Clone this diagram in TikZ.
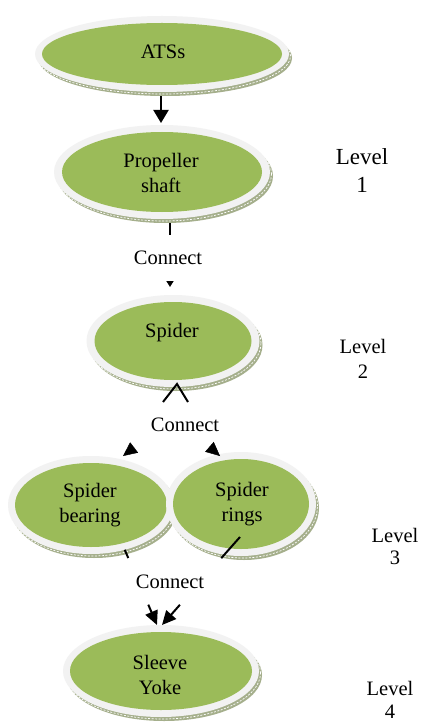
\documentclass[tikz,border=0pt]{standalone}
\usepackage{fontspec}
\setmainfont{Liberation Serif}
\usetikzlibrary{shapes.geometric,arrows.meta,calc}
\definecolor{ovgreen}{HTML}{9BBB59}
\definecolor{ovring}{HTML}{F2F2F2}
\definecolor{ovshadow}{HTML}{A5AF8C}
\tikzset{
  ovbase/.style={ellipse, inner sep=0pt, outer sep=0pt},
  ovshadowst/.style={ovbase, fill=ovshadow},
  ovdashst/.style={ovbase, draw=white, line width=0.7pt, dash pattern=on 2pt off 1.5pt},
  ovringst/.style={ovbase, fill=ovring},
  ovcorest/.style={ovbase, fill=ovgreen},
  txt/.style={font=\fontsize{20.5}{25}\selectfont, align=center, inner sep=0pt},
  conn/.style={line width=2pt, draw=black},
}
% name, x, y, core w, core h, ring w, ring h
\newcommand{\myoval}[7]{%
  \node[ovshadowst, minimum width=#6pt, minimum height=#7pt] (#1-s) at ($(#2,#3)+(3,4)$) {};
  \node[ovdashst, minimum width=#6pt, minimum height=#7pt] (#1-d) at ($(#2,#3)+(1.5,2)$) {};
  \node[ovringst, minimum width=#6pt, minimum height=#7pt] (#1-o) at (#2,#3) {};
  \node[ovcorest, minimum width=#4pt, minimum height=#5pt] (#1) at (#2,#3) {};
}
\begin{document}
\begin{tikzpicture}[x=1pt,y=-1pt]
\useasboundingbox (0,0) rectangle (420,722);
\fill[white] (0,0) rectangle (420,722);

% ovals
\myoval{ats}{162}{54}{240}{62}{254}{76}
\myoval{prop}{162}{172}{200}{80}{216}{94}
\myoval{spider}{173}{341}{157}{78}{173}{92}
\myoval{bearing}{91}{505}{152}{84}{166}{98}
\myoval{rings}{241}{504}{136}{90}{150}{104}
\myoval{yoke}{161}{671}{182}{78}{196}{92}

% connectors
\draw[conn, -{Triangle[length=13pt,width=15pt]}]
  ($(ats-s.south)+(-4,0)$) -- ($(prop-o.north)+(-1,-2)$);

\coordinate (pa) at ($(prop-s.south)+(5,0)$);
\coordinate (pb) at ($(spider-o.north)+(-3,-8)$);
\draw[conn, -{Triangle[length=6pt,width=7pt]}]
  (pa) -- ($(pa)!0.19!(pb)$) ($(pa)!0.906!(pb)$) -- (pb);

\coordinate (v1) at (163,402);
\coordinate (v2) at (188,402);
\draw[conn] (v1) -- ($(spider-o.south)+(4,-3)$) -- (v2);

\coordinate (tl) at (123,456);
\coordinate (tlb) at (134.1,447.5);
\coordinate (tr) at (220,456);
\coordinate (trb) at (209.4,446.8);
\draw[-{Triangle[length=14pt,width=13pt]}] (tlb) -- (tl);
\draw[-{Triangle[length=14pt,width=13pt]}] (trb) -- (tr);

\coordinate (ba) at (bearing-o.-53);
\coordinate (bb) at ($(yoke-o.north)+(-4,0)$);
\draw[conn, -{Triangle[length=14pt,width=13pt]}]
  (ba) -- ($(ba)!0.11!(bb)$) ($(ba)!0.73!(bb)$) -- (bb);

\coordinate (ra) at ($(rings.south)+(-1,-12)$);
\coordinate (rb) at ($(yoke-o.north)+(1,0)$);
\draw[conn, -{Triangle[length=14pt,width=13pt]}]
  (ra) -- ($(ra)!0.24!(rb)$) ($(ra)!0.77!(rb)$) -- (rb);

% texts
\node[txt] (t-ats) at (163,52) {ATSs};
\node[txt] (t-prop) at (161,172.5) {Propeller\\shaft};
\node[txt] (t-spider) at (172,333) {Spider};
\node[txt] (t-bearing) at (90,505) {Spider\\bearing};
\node[txt] (t-rings) at (242,504.5) {Spider\\rings};
\node[txt] (t-yoke) at (160,674.5) {Sleeve\\Yoke};

\node[txt] (c1) at (168,258) {Connect};
\node[txt] (c2) at (185,425) {Connect};
\node[txt] (c3) at (170,582) {Connect};

\node[txt, font=\fontsize{23}{28}\selectfont] (lv1) at (362,171) {Level\\1};
\node[txt] (lv2) at (363,358.5) {Level\\2};
\node[txt, font=\fontsize{20.5}{22}\selectfont] (lv3) at (395,546) {Level\\3};
\node[txt, font=\fontsize{20.5}{23}\selectfont] (lv4) at (390,700) {Level\\4};
\end{tikzpicture}
\end{document}
